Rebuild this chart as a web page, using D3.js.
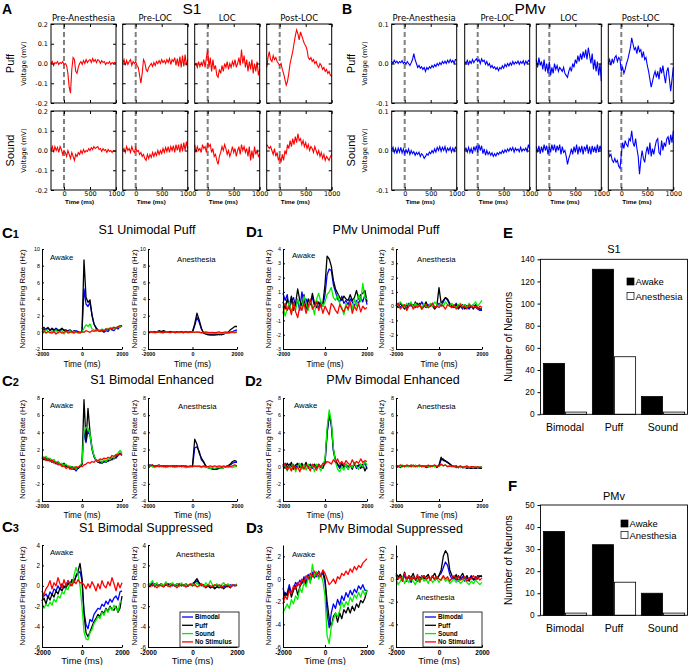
<!DOCTYPE html>
<html><head><meta charset="utf-8">
<script src="https://cdn.jsdelivr.net/npm/d3@7"></script>
<style>body{margin:0;background:#fff} svg{display:block}</style>
</head><body><svg id="c" width="688" height="665"></svg>
<script>
// ---------------- DATA ----------------
// Panels A/B: LFP traces, time -250..1000 ms every 25 ms
const lfpEpochs = ["Pre-Anesthesia", "Pre-LOC", "LOC", "Post-LOC"];
const lfpStimuli = ["Puff", "Sound"];
const lfpTimeStart = -250, lfpTimeStep = 25;
const lfpXTicks = [0, 500, 1000];
const s1YTicks = [-0.2, -0.1, 0.0, 0.1, 0.2];
const pmvYTicks = [-0.1, 0.0, 0.1];

const s1Puff_PreAnesthesia = [0.0,0.01,-0.01,0.005,0.0,0.01,-0.005,0.005,0.0,0.01,-0.005,0.0,-0.01,-0.05,-0.12,-0.15,-0.03,0.03,0.02,-0.04,-0.05,-0.02,0.0,0.01,-0.005,0.015,0.0,0.02,0.005,0.015,0.02,0.005,0.025,0.01,0.02,0.005,0.02,0.015,0.0,0.015,0.005,0.01,-0.005,0.005,0.0,0.01,-0.005,0.005,0.0,0.005,0.0];
const s1Puff_PreLOC = [0.0,0.02,-0.01,0.015,-0.005,0.01,0.02,-0.01,0.01,0.0,0.01,-0.01,-0.02,-0.06,-0.1,-0.05,0.02,0.005,-0.03,-0.04,-0.02,-0.01,0.0,-0.015,0.005,-0.01,0.01,0.0,0.015,0.0,0.02,0.005,0.015,0.0,0.02,0.005,0.025,-0.005,0.02,0.01,0.03,-0.01,0.025,-0.015,0.035,-0.02,0.04,-0.015,0.045,-0.01,0.02];
const s1Puff_LOC = [-0.01,0.0,-0.02,0.01,-0.015,0.005,-0.01,0.02,-0.02,0.03,0.07,-0.02,0.03,-0.04,0.02,-0.03,-0.01,-0.06,-0.07,-0.03,-0.05,-0.01,-0.04,0.0,-0.02,0.01,-0.03,0.0,-0.02,0.01,-0.01,0.02,-0.02,0.0,0.03,-0.01,0.07,0.0,0.04,-0.02,0.02,-0.04,0.01,-0.03,0.02,-0.05,0.0,-0.04,0.01,-0.06,-0.03];
const s1Puff_PostLOC = [-0.02,0.03,0.06,0.02,0.01,0.04,0.02,0.03,0.01,0.0,-0.01,0.0,-0.03,-0.05,-0.08,-0.11,-0.09,-0.05,0.0,0.03,0.06,0.1,0.14,0.17,0.15,0.12,0.16,0.14,0.12,0.1,0.09,0.07,0.03,0.02,0.03,0.01,0.02,0.0,0.01,-0.01,-0.02,0.0,-0.01,-0.03,-0.02,-0.04,-0.03,-0.05,-0.04,-0.06,-0.065];
const s1Sound_PreAnesthesia = [0.0,0.02,-0.01,0.02,0.0,0.015,-0.01,0.02,0.005,-0.02,0.0,-0.01,-0.03,0.0,-0.02,-0.04,-0.01,-0.03,-0.05,-0.02,-0.03,-0.01,-0.02,0.0,-0.015,0.005,-0.01,0.0,-0.005,0.01,0.0,0.015,0.005,0.02,0.01,0.015,0.02,0.005,0.01,-0.005,0.01,0.0,0.005,-0.01,0.005,-0.005,0.0,-0.01,0.0,-0.005,0.0];
const s1Sound_PreLOC = [0.0,0.01,-0.01,0.02,0.0,0.01,-0.01,0.02,0.0,-0.01,0.015,-0.005,0.0,-0.02,-0.01,-0.03,-0.02,-0.04,-0.05,-0.02,-0.04,-0.02,-0.035,-0.01,-0.03,-0.01,-0.025,0.0,-0.02,0.0,-0.015,0.01,-0.01,0.015,-0.005,0.02,-0.01,0.02,0.0,0.025,-0.01,0.03,0.0,0.03,-0.01,0.035,-0.005,0.04,0.0,0.045,0.01];
const s1Sound_LOC = [0.03,-0.01,0.02,0.0,0.01,-0.01,0.03,0.01,0.02,-0.01,0.04,0.02,0.03,-0.01,0.01,-0.03,-0.02,-0.05,-0.07,-0.03,-0.01,0.02,0.0,0.03,0.01,-0.02,0.0,-0.03,-0.01,0.02,-0.01,0.01,-0.03,0.0,0.02,-0.02,0.03,0.0,0.02,-0.01,0.01,-0.03,0.02,-0.05,0.0,-0.04,0.02,-0.02,0.0,-0.03,-0.02];
const s1Sound_PostLOC = [0.03,0.02,0.01,0.02,0.0,-0.02,0.01,-0.03,-0.01,-0.05,-0.03,-0.06,-0.02,-0.05,0.0,-0.02,0.03,0.01,0.05,0.02,0.06,0.03,0.07,0.04,0.085,0.05,0.06,0.03,0.05,0.02,0.04,0.01,0.03,0.0,0.02,0.01,-0.01,0.02,0.0,-0.02,0.0,-0.03,-0.01,-0.04,-0.02,-0.05,-0.03,-0.04,-0.05,-0.03,-0.02];

const pmvPuff_PreAnesthesia = [0.005,0.0,0.008,0.002,0.006,0.0,0.005,0.002,0.007,0.0,0.004,-0.002,0.005,0.0,-0.005,0.002,0.01,0.025,0.01,0.0,-0.01,-0.005,-0.012,-0.008,-0.015,-0.01,-0.02,-0.01,-0.015,-0.008,-0.012,-0.005,-0.01,-0.003,-0.008,0.0,-0.005,0.002,-0.003,0.005,0.0,0.006,0.0,0.008,0.002,0.01,0.003,0.008,0.0,0.01,0.008];
const pmvPuff_PreLOC = [0.005,0.0,0.008,-0.002,0.006,0.0,0.01,0.002,0.008,0.012,0.005,0.01,0.0,0.012,0.005,0.008,-0.002,0.005,-0.005,0.0,-0.01,-0.005,-0.012,-0.008,-0.015,-0.01,-0.018,-0.01,-0.014,-0.006,-0.012,-0.002,-0.008,0.0,-0.006,0.002,-0.004,0.005,-0.002,0.004,0.0,0.006,-0.002,0.005,0.0,0.007,-0.003,0.006,0.0,0.008,0.005];
const pmvPuff_LOC = [0.01,-0.01,0.015,-0.005,0.005,-0.015,0.01,-0.02,0.0,-0.025,0.005,-0.03,-0.01,-0.025,0.0,-0.015,-0.005,-0.02,-0.01,-0.015,-0.02,-0.01,-0.025,-0.03,-0.035,-0.02,-0.01,-0.02,0.0,-0.01,0.01,0.0,0.02,0.005,0.025,0.01,0.03,0.015,0.035,0.01,0.04,0.02,0.0,0.025,-0.015,0.01,-0.02,0.005,-0.03,0.0,-0.045];
const pmvPuff_PostLOC = [0.0,0.01,-0.005,0.012,0.0,0.015,0.02,0.005,0.015,0.01,-0.02,-0.01,-0.025,-0.015,0.0,0.01,0.025,0.04,0.065,0.05,0.035,0.04,0.025,0.045,0.03,0.035,0.015,0.03,0.01,0.015,-0.005,-0.02,-0.04,-0.06,-0.045,-0.03,-0.02,-0.035,-0.02,-0.04,-0.01,-0.025,-0.005,-0.03,-0.05,-0.02,-0.01,-0.04,-0.07,-0.04,-0.01];
const pmvSound_PreAnesthesia = [0.0,0.008,-0.005,0.005,-0.008,0.006,-0.004,0.008,-0.006,0.004,-0.008,0.002,-0.006,0.004,-0.01,0.0,-0.008,-0.003,-0.012,-0.005,-0.01,-0.004,-0.015,-0.008,-0.012,-0.02,-0.015,-0.008,-0.012,-0.004,-0.008,0.0,-0.006,0.004,-0.004,0.008,0.0,0.01,-0.002,0.008,0.0,0.01,-0.004,0.006,0.0,0.008,-0.004,0.006,-0.002,0.008,0.002];
const pmvSound_PreLOC = [0.0,0.006,-0.004,0.008,-0.005,0.005,-0.008,0.01,0.0,0.012,-0.005,0.015,0.0,0.012,-0.008,0.004,-0.012,0.0,-0.01,-0.004,-0.012,-0.006,-0.015,-0.008,-0.014,-0.006,-0.01,-0.004,-0.008,0.0,-0.006,0.002,-0.004,0.004,-0.002,0.006,0.0,0.008,-0.004,0.006,0.0,0.004,-0.003,0.008,-0.002,0.004,0.0,0.006,-0.002,0.015,0.004];
const pmvSound_LOC = [0.01,-0.005,0.012,-0.008,0.01,-0.005,0.015,0.0,0.012,-0.01,0.01,-0.005,0.015,0.0,0.015,-0.005,0.012,0.0,0.015,-0.01,0.01,-0.005,0.0,-0.015,-0.035,-0.02,-0.01,0.005,-0.01,0.01,-0.005,0.015,-0.01,0.01,-0.005,0.012,-0.01,0.01,0.0,0.015,-0.008,0.01,-0.01,0.012,-0.004,0.01,-0.006,0.015,-0.004,0.012,0.0];
const pmvSound_PostLOC = [0.0,-0.015,-0.01,-0.025,-0.03,-0.02,-0.03,-0.025,-0.04,-0.045,-0.01,0.02,0.005,0.025,0.015,0.01,0.03,0.025,0.05,0.02,0.01,0.03,0.005,-0.015,-0.06,-0.025,0.0,-0.02,-0.03,-0.005,0.01,-0.01,0.02,-0.015,0.005,-0.01,0.01,0.025,0.03,-0.005,-0.01,0.025,0.0,0.02,0.01,0.03,0.035,0.015,0.04,0.02,0.05];

// Panels C/D: normalized firing rate, time -2000..2000 ms every 100 ms
const rateSeries = ["Bimodal", "Puff", "Sound", "No Stimulus"];
const rateTimeStart = -2000, rateTimeStep = 100;
const rateXTicks = [-2000, 0, 2000];

const c1AwakeBimodal = [0.5,0.3,0.4,0.6,0.3,0.4,0.2,0.5,0.3,0.2,0.4,0.3,0.1,0.2,0.3,0.1,0.0,0.2,0.1,0.0,0.1,5.2,3.4,3.1,3.6,2.1,1.0,0.6,0.2,0.1,0.2,0.0,0.2,0.1,0.4,0.3,0.2,0.5,0.4,0.7,0.8];
const c1AwakePuff = [0.4,0.6,0.3,0.5,0.2,0.5,0.3,0.4,0.2,0.3,0.5,0.2,0.3,0.1,0.2,0.0,0.2,0.1,0.0,0.1,0.0,8.7,4.2,3.6,3.9,2.0,1.0,0.5,0.3,0.2,0.3,0.1,0.4,0.3,0.5,0.4,0.6,0.5,0.7,0.6,0.8];
const c1AwakeSound = [0.2,0.0,0.3,0.1,-0.1,0.2,0.0,0.3,-0.1,0.1,0.2,-0.2,0.1,0.0,0.2,-0.1,0.1,0.0,-0.1,0.1,0.0,0.5,0.9,0.7,1.0,0.4,0.3,0.1,0.3,0.2,0.4,0.2,0.3,0.5,0.3,0.6,0.4,0.5,0.7,0.6,0.9];
const c1AwakeNoStim = [0.0,0.2,-0.1,0.1,0.0,-0.1,0.1,-0.2,0.0,0.1,-0.1,0.0,0.2,-0.1,0.0,0.1,-0.1,0.1,0.0,-0.1,0.1,0.0,0.2,0.1,0.0,0.2,0.1,0.3,0.2,0.1,0.3,0.2,0.4,0.3,0.5,0.4,0.6,0.5,0.7,0.8,0.8];
const c1AnesBimodal = [0.0,0.1,0.0,0.0,0.1,0.1,0.0,0.1,0.0,0.0,0.1,0.0,0.0,0.1,0.0,0.0,0.1,0.0,0.0,0.1,0.0,0.8,1.8,1.2,0.4,-0.1,-0.2,-0.2,-0.3,-0.3,-0.3,-0.2,-0.3,-0.2,-0.2,-0.1,-0.1,0.0,0.1,0.2,0.3];
const c1AnesPuff = [0.0,0.1,0.0,0.1,0.0,0.2,0.1,0.2,0.1,0.0,0.1,0.0,0.1,0.0,0.0,0.1,0.0,0.1,0.0,0.0,0.1,1.0,2.3,1.5,0.5,-0.1,-0.2,-0.3,-0.3,-0.3,-0.3,-0.3,-0.2,-0.3,-0.2,-0.1,0.0,0.3,0.5,0.7,0.7];
const c1AnesSound = [0.0,0.05,-0.05,0.0,0.05,0.0,-0.05,0.0,0.05,0.0,-0.05,0.0,0.05,0.0,-0.05,0.0,0.05,0.0,-0.05,0.0,0.05,0.0,0.0,0.05,-0.05,0.0,-0.05,-0.1,-0.1,-0.1,-0.15,-0.1,-0.1,-0.15,-0.1,-0.05,-0.1,-0.05,0.0,-0.05,0.0];
const c1AnesNoStim = [0.05,0.0,0.05,-0.05,0.0,0.05,0.0,-0.05,0.05,0.0,0.0,0.05,-0.05,0.0,0.05,0.0,-0.05,0.05,0.0,0.0,0.05,0.0,0.05,0.0,-0.05,0.0,0.05,0.0,-0.05,0.0,-0.05,0.0,0.05,-0.05,0.0,0.05,0.0,0.0,0.05,0.0,0.05];

const c2AwakeBimodal = [1.1,0.9,0.8,1.0,0.7,0.6,0.8,0.3,0.5,0.2,0.3,0.1,0.2,-0.1,0.0,-0.3,-0.2,-0.5,-0.2,0.0,0.3,4.0,2.8,4.2,3.6,2.0,1.2,0.7,0.6,0.4,0.6,0.5,0.7,0.6,0.9,0.8,1.1,1.0,1.3,1.5,1.3];
const c2AwakePuff = [1.0,0.8,1.1,0.7,0.9,0.5,0.7,0.4,0.6,0.3,0.2,0.4,0.0,0.1,-0.2,0.0,-0.3,-0.1,-0.2,0.0,0.3,7.8,3.0,6.8,4.0,2.2,1.2,0.8,0.5,0.6,0.4,0.7,0.5,0.8,0.7,1.0,0.9,1.2,1.4,1.6,1.4];
const c2AwakeSound = [1.3,1.0,1.2,0.8,1.0,0.6,0.8,0.5,0.6,0.3,0.4,0.1,0.3,0.0,0.1,-0.2,0.0,-0.2,-0.1,0.1,0.5,4.0,4.6,4.5,3.8,2.2,1.3,0.8,0.6,0.7,0.5,0.8,0.6,0.9,0.8,1.1,1.0,1.4,1.6,1.9,1.6];
const c2AwakeNoStim = [0.9,1.1,0.7,0.9,0.6,0.8,0.4,0.5,0.2,0.3,0.0,0.1,-0.2,0.0,-0.3,-0.1,-0.2,0.0,-0.1,0.1,0.0,0.2,0.3,0.5,0.4,0.6,0.5,0.8,0.7,0.9,0.8,1.0,0.9,1.1,1.0,1.3,1.2,1.4,1.3,1.5,1.4];
const c2AnesBimodal = [0.1,0.2,0.0,0.1,0.1,0.0,0.1,0.0,0.1,0.0,0.1,0.0,0.1,0.0,0.1,0.0,0.1,-0.1,0.0,0.0,0.0,2.2,2.3,1.8,0.8,0.5,0.1,-0.1,-0.2,-0.2,-0.3,-0.2,-0.2,-0.1,-0.1,0.0,0.1,0.2,0.4,0.5,0.5];
const c2AnesPuff = [0.2,0.1,0.2,0.0,0.1,0.2,0.0,0.1,0.0,0.1,0.0,0.1,0.0,0.1,0.0,0.1,0.0,0.1,0.0,0.0,0.1,3.2,2.6,1.6,1.0,0.6,0.0,-0.1,-0.2,-0.3,-0.3,-0.3,-0.2,-0.2,-0.1,0.0,0.1,0.3,0.6,0.7,0.6];
const c2AnesSound = [0.0,0.1,0.0,-0.1,0.0,0.1,0.0,0.0,-0.1,0.0,0.1,0.0,-0.1,0.0,0.1,0.0,0.0,-0.1,0.0,0.1,0.0,0.0,0.1,0.0,-0.1,0.0,-0.1,-0.1,-0.2,-0.1,-0.2,-0.1,-0.1,-0.2,-0.1,0.0,-0.1,0.0,-0.1,0.0,0.0];
const c2AnesNoStim = [0.3,0.1,0.2,0.0,0.1,0.0,0.1,0.0,0.1,0.0,0.1,0.0,0.1,0.0,0.1,0.0,0.1,0.0,0.0,0.1,0.0,0.1,0.0,0.1,0.0,0.1,0.0,0.0,0.1,0.0,0.1,0.0,0.1,0.0,0.1,0.0,0.1,0.0,0.1,0.2,0.1];

const c3AwakeBimodal = [-0.5,-1.0,-0.8,-1.2,-0.6,-0.9,-0.3,-0.5,0.0,-0.4,0.2,-0.2,0.0,0.5,0.2,0.6,0.4,0.9,1.2,1.4,0.5,-2.5,-3.8,-4.2,-3.3,-3.5,-2.8,-2.5,-2.2,-2.3,-1.8,-2.0,-1.5,-1.8,-1.3,-1.6,-1.2,-1.0,-1.4,-0.6,-0.5];
const c3AwakePuff = [-1.5,-1.2,-1.8,-1.0,-1.4,-0.8,-1.1,-0.5,-0.8,-0.2,-0.5,0.0,-0.3,0.3,0.0,0.6,0.3,1.0,1.4,2.2,0.8,-2.8,-4.6,-5.0,-4.5,-4.0,-3.5,-3.2,-2.8,-3.0,-2.5,-2.7,-2.2,-2.5,-2.0,-2.3,-2.4,-2.0,-2.6,-2.2,-1.0];
const c3AwakeSound = [-1.6,-2.2,-1.8,-2.0,-1.6,-1.9,-1.3,-1.6,-1.0,-1.2,-0.6,-0.8,-0.2,-0.4,0.3,0.0,1.0,1.8,1.2,0.0,-2.0,-4.5,-5.2,-5.3,-4.6,-4.3,-3.7,-3.4,-3.0,-3.2,-2.6,-2.9,-2.3,-2.6,-2.1,-2.4,-1.9,-2.2,-2.5,-1.6,-1.5];
const c3AwakeNoStim = [-1.5,-0.8,-0.3,0.0,0.5,-0.3,0.3,0.0,0.8,0.2,-0.2,0.6,0.0,0.5,0.2,0.0,0.5,0.2,0.6,0.3,0.3,0.1,-0.3,0.2,-0.2,0.4,0.0,-0.5,0.2,-0.3,0.5,0.0,-0.2,0.4,0.0,0.8,0.2,-0.5,0.3,-0.2,0.3];
const c3AnesBimodal = [0.2,0.0,0.3,-0.1,0.2,0.0,0.2,-0.1,0.1,0.0,0.2,0.0,0.1,0.0,0.2,0.0,0.1,-0.1,0.0,0.1,0.0,0.3,0.5,0.2,0.0,0.1,-0.1,0.0,-0.2,0.0,-0.2,-0.1,0.0,-0.2,-0.1,0.0,-0.1,0.1,0.0,0.1,0.0];
const c3AnesPuff = [0.1,0.2,0.0,0.2,0.1,0.0,0.2,0.0,0.1,0.2,0.0,0.1,0.0,0.2,0.0,0.1,0.0,0.2,0.0,0.1,0.2,0.4,0.7,0.3,0.1,0.0,-0.2,0.0,-0.2,-0.1,-0.3,-0.1,-0.2,0.0,-0.3,-0.1,0.0,-0.2,0.1,0.0,0.1];
const c3AnesSound = [0.0,0.2,0.5,0.0,0.3,-0.1,0.2,0.0,0.4,-0.1,0.1,0.3,0.0,0.2,-0.1,0.3,0.0,0.2,0.1,0.0,0.2,0.0,0.3,0.0,0.2,-0.1,0.3,0.0,0.5,0.1,0.0,0.2,-0.1,0.1,0.3,0.0,0.2,-0.1,0.1,0.0,0.2];
const c3AnesNoStim = [0.0,-0.1,0.1,0.0,-0.2,0.1,0.0,-0.1,0.2,0.0,-0.1,0.1,0.0,-0.2,0.1,0.0,0.1,-0.1,0.0,0.2,0.0,0.1,-0.1,0.0,0.2,0.0,-0.1,0.1,0.0,-0.1,0.1,0.0,0.1,-0.1,0.0,0.1,0.0,-0.1,0.1,0.0,0.1];

const d1AwakeBimodal = [0.9,0.4,0.8,-0.2,0.3,0.6,0.0,0.4,-0.3,1.0,0.2,0.5,-0.1,0.3,0.6,0.0,0.4,-0.2,0.3,0.0,0.8,2.2,2.6,2.5,1.5,1.0,0.5,0.3,0.7,0.2,0.4,0.1,0.5,0.3,0.0,0.4,0.2,0.6,0.3,0.8,0.1];
const d1AwakePuff = [0.3,-0.2,0.5,0.0,0.7,-0.3,0.2,1.2,0.4,0.0,0.8,-0.2,0.5,0.1,0.9,0.2,-0.1,0.3,0.0,0.2,1.5,3.5,3.3,2.8,1.8,1.2,0.9,0.6,0.4,0.7,0.5,0.4,0.8,0.4,0.6,1.1,0.5,0.8,0.9,1.1,0.3];
const d1AwakeSound = [0.0,-0.7,-0.2,0.3,-0.5,0.2,-0.3,0.5,0.0,-0.2,0.7,0.2,-0.3,0.4,0.0,-0.6,0.5,0.9,0.3,0.0,0.3,0.8,1.0,1.3,0.6,0.4,0.8,0.2,-0.1,-0.6,0.2,-0.3,0.3,-0.2,0.5,0.0,0.8,0.3,1.6,0.6,0.5];
const d1AwakeNoStim = [-0.5,0.2,-0.3,0.0,-0.6,0.3,-0.4,-0.8,0.0,-0.3,0.2,-0.5,0.0,0.5,-0.2,0.0,0.3,-0.3,0.1,-0.5,0.0,-0.3,-0.6,0.2,0.0,-0.3,-0.5,0.1,-0.2,-0.4,0.0,-0.2,0.3,-0.5,0.0,-0.3,0.2,-0.4,0.0,-0.2,-0.1];
const d1AnesBimodal = [0.0,0.2,-0.1,0.1,0.0,-0.2,0.2,0.0,0.1,-0.1,0.2,0.0,0.3,0.0,-0.1,0.1,0.0,0.2,-0.1,0.0,0.2,0.0,0.3,0.6,0.4,0.1,-0.1,0.0,0.2,-0.1,0.0,-0.2,0.1,0.0,-0.2,0.0,0.1,-0.1,-0.2,-0.3,-0.3];
const d1AnesPuff = [0.1,-0.1,0.2,0.0,-0.2,0.1,0.0,0.2,-0.1,0.3,0.0,0.2,-0.2,0.0,0.3,-0.1,0.1,0.0,-0.2,0.0,1.3,0.2,0.4,0.6,0.5,0.2,0.0,-0.1,0.1,-0.2,0.0,0.1,-0.2,0.0,-0.1,0.0,-0.2,0.1,-0.1,-0.2,-0.2];
const d1AnesSound = [0.2,0.0,0.3,0.1,-0.1,0.2,0.0,0.3,-0.1,0.2,0.0,0.1,-0.2,0.2,0.0,-0.1,0.2,0.0,0.3,0.1,0.0,0.2,0.0,0.3,0.1,0.0,0.2,0.0,-0.1,0.1,0.2,0.0,0.1,-0.1,0.2,0.0,0.1,0.3,0.0,0.2,0.4];
const d1AnesNoStim = [0.0,0.2,-0.2,0.0,0.1,-0.3,0.0,0.1,-0.2,0.0,-0.1,0.1,-0.2,0.0,0.1,-0.1,0.0,0.2,-0.1,0.0,-0.1,0.1,0.0,-0.2,0.1,0.0,-0.1,0.1,-0.2,0.0,0.1,-0.1,0.0,-0.2,0.1,0.0,-0.1,0.0,-0.2,0.0,-0.1];

const d2AwakeBimodal = [0.0,0.4,-0.1,0.3,0.0,0.2,-0.2,0.3,0.0,0.4,-0.1,0.2,0.0,0.3,-0.2,0.2,0.0,0.3,-0.1,0.0,0.4,3.8,6.0,4.8,1.8,0.6,0.2,-0.2,0.3,0.0,0.1,-0.3,0.2,0.0,0.3,-0.2,0.1,0.3,-0.1,0.5,-0.3];
const d2AwakePuff = [0.3,-0.2,0.4,0.0,0.5,-0.3,0.2,0.4,-0.1,0.3,0.0,0.5,-0.2,0.2,0.0,0.3,-0.1,0.2,0.0,-0.2,0.5,4.0,6.2,5.0,2.0,0.8,0.3,0.0,0.4,-0.1,0.3,0.0,0.2,-0.3,0.4,0.0,0.2,-0.2,0.3,-0.5,0.0];
const d2AwakeSound = [-0.2,0.2,-0.5,0.1,-0.3,0.3,-0.6,0.0,0.4,-0.3,0.2,-0.4,0.3,-0.1,0.2,-0.6,0.3,0.0,-0.5,0.3,0.8,4.5,6.6,5.3,2.2,0.5,-0.3,-0.6,0.0,-0.4,0.3,-0.3,0.2,-0.1,0.5,0.0,-0.3,0.3,0.0,0.6,0.2];
const d2AwakeNoStim = [0.0,0.3,-0.4,0.0,-0.5,0.2,-0.3,0.0,-0.6,0.1,-0.3,0.2,0.0,-0.5,0.3,0.0,-0.4,0.2,0.0,0.4,0.3,0.6,0.5,0.3,0.8,0.5,0.9,0.3,0.6,0.2,0.7,0.4,0.2,0.8,0.3,0.6,0.4,0.9,0.5,0.7,0.6];
const d2AnesBimodal = [0.1,0.0,0.1,0.0,0.1,0.0,0.1,0.0,0.1,0.0,0.1,0.0,0.1,0.0,0.1,0.0,0.0,0.1,0.0,0.1,0.1,0.8,0.9,0.6,0.5,0.3,0.1,0.0,0.0,-0.1,0.0,-0.1,-0.1,-0.1,-0.1,-0.2,-0.1,-0.2,-0.1,-0.1,-0.2];
const d2AnesPuff = [0.0,0.1,-0.1,0.1,0.0,0.1,0.0,0.2,0.0,0.1,0.0,0.1,0.0,0.1,-0.1,0.0,0.1,0.0,0.1,-0.1,0.2,1.1,0.7,0.7,0.5,0.3,0.1,0.0,0.1,-0.1,0.0,-0.1,0.0,-0.2,-0.1,-0.2,-0.1,-0.2,-0.1,-0.2,-0.2];
const d2AnesSound = [0.0,0.1,0.0,0.2,0.0,0.1,0.0,0.1,0.0,0.2,0.0,0.1,0.0,0.1,0.0,0.1,0.0,0.1,0.0,0.1,0.0,0.2,0.1,0.2,0.0,0.1,0.0,0.1,-0.1,0.0,-0.1,0.0,-0.1,0.0,-0.1,0.0,-0.1,0.0,-0.1,0.0,-0.1];
const d2AnesNoStim = [0.2,0.0,0.2,0.1,0.0,0.2,0.1,0.0,0.2,0.0,0.1,0.2,0.0,0.1,0.0,0.2,0.0,0.1,0.2,0.0,0.1,0.3,0.1,0.2,0.0,0.1,0.0,0.1,-0.1,0.0,0.1,-0.1,0.0,0.1,-0.1,0.0,0.0,-0.1,0.0,-0.1,0.0];

const d3AwakeBimodal = [-0.8,-1.5,-1.2,-0.5,-1.3,-0.8,-0.3,-0.6,-0.1,-0.4,0.2,-0.3,0.4,0.0,0.6,0.3,0.2,0.7,0.3,0.5,-0.3,-3.0,-4.3,-3.0,-2.2,-2.6,-1.8,-2.3,-1.5,-1.9,-1.2,-1.6,-1.0,-1.4,-0.9,-1.2,-0.6,-0.9,-0.5,-1.0,-1.0];
const d3AwakePuff = [-1.8,-1.2,-1.5,-0.8,-1.6,-1.0,-0.6,-1.4,-0.7,-0.3,0.0,-0.5,0.3,-0.2,0.4,0.1,0.6,0.2,0.3,0.7,0.0,-2.0,-3.5,-4.2,-3.3,-3.0,-3.8,-3.0,-3.5,-2.7,-3.0,-2.5,-3.0,-2.4,-2.8,-2.2,-2.5,-1.9,-2.1,-1.7,-1.0];
const d3AwakeSound = [-3.0,-2.6,-2.2,-2.6,-1.8,-2.2,-1.5,-1.8,-0.8,-1.2,-0.3,-0.7,0.2,-0.4,1.3,0.2,0.6,0.0,0.4,-0.2,-1.5,-5.0,-5.7,-4.2,-3.6,-3.0,-3.3,-2.8,-2.0,-2.5,-2.0,-2.3,-1.6,-2.0,-1.4,-1.7,-1.2,-1.6,-1.0,-1.4,-1.0];
const d3AwakeNoStim = [-2.2,-1.5,-1.8,-1.0,-1.3,-0.6,-0.9,-0.3,-0.6,0.0,-0.3,0.3,0.0,0.5,0.2,0.7,0.3,0.6,0.2,0.8,0.5,0.0,-0.5,-0.3,0.0,-0.4,0.2,0.0,0.5,0.3,0.7,0.4,0.9,0.6,1.1,0.8,1.2,1.0,1.4,1.6,1.8];
const d3AnesBimodal = [0.3,0.0,0.4,-0.2,0.3,0.0,0.2,-0.3,0.1,0.0,-0.2,0.2,0.0,0.3,-0.1,0.2,0.0,0.3,-0.1,0.0,0.3,0.5,1.0,1.5,1.2,0.4,0.0,0.2,-0.1,0.3,0.0,0.2,-0.2,0.1,0.0,0.3,-0.1,0.2,0.0,0.3,0.2];
const d3AnesPuff = [0.5,0.2,0.4,0.0,0.6,-0.2,0.3,0.1,0.5,-0.1,0.2,-0.3,0.3,0.0,0.2,0.4,-0.1,0.2,0.5,0.0,0.3,0.8,2.0,2.5,2.2,0.8,0.3,0.0,0.4,-0.2,0.2,0.5,0.0,0.3,-0.2,0.2,0.0,-0.1,0.3,0.2,0.3];
const d3AnesSound = [0.0,-0.5,-0.2,0.2,-0.4,0.0,-0.3,0.1,-0.2,-0.5,0.0,-0.3,0.2,-0.2,0.0,-0.4,0.1,-0.3,-0.1,0.0,-0.3,0.0,0.2,-0.2,0.0,-0.4,-0.2,0.0,-0.3,-0.1,-0.4,-0.2,0.0,-0.3,-0.5,-0.2,-0.4,-0.1,-0.3,-0.5,-0.3];
const d3AnesNoStim = [0.4,0.0,0.2,-0.2,0.5,0.0,0.3,-0.1,0.2,0.0,0.4,-0.2,0.1,0.3,0.0,0.2,-0.1,0.3,0.0,0.2,0.0,-0.1,0.3,0.0,0.2,-0.2,0.1,0.3,0.0,0.2,-0.1,0.0,0.2,-0.2,0.1,0.0,0.3,0.0,0.2,-0.1,0.1];

// Panels E/F: neuron counts
const neuronCategories = ["Bimodal", "Puff", "Sound"];
const neuronStates = ["Awake", "Anesthesia"];
const s1AwakeCounts = [46, 131, 16];
const s1AnesthesiaCounts = [2, 52, 2];
const pmvAwakeCounts = [38, 32, 10];
const pmvAnesthesiaCounts = [1, 15, 1];
const s1CountTicks = [0, 20, 40, 60, 80, 100, 120, 140];
const pmvCountTicks = [0, 10, 20, 30, 40, 50];

// ---------------- DRAWING ----------------
const svg = d3.select("#c");
const MPL = "DejaVu Sans", ML = "Liberation Sans, Arial, sans-serif";

function txt(x, y, s, size, o = {}) {
  const t = svg.append("text").attr("x", x).attr("y", y).text(s)
    .attr("font-size", size).attr("font-family", o.family || ML)
    .attr("text-anchor", o.anchor || "start").attr("fill", o.fill || "#000");
  if (o.weight) t.attr("font-weight", o.weight);
  if (o.rotate) t.attr("transform", `rotate(-90,${x},${y})`);
  return t;
}
function styleAxis(g, size, family, weight) {
  g.select(".domain").remove();
  g.selectAll("text").attr("font-size", size).attr("font-family", family).attr("font-weight", weight || "normal");
  g.selectAll("line").attr("stroke", "#000");
}

// ---- A / B ----
function drawLfp(xs, rows, yDomain, yTicks, color) {
  const w = 65, h = 79, rowsY = [24, 111];
  rows.forEach((row, ri) => {
    const y = d3.scaleLinear().domain(yDomain).range([rowsY[ri] + h, rowsY[ri]]);
    row.forEach((vals, ci) => {
      const x = d3.scaleLinear().domain([-250, 1000]).range([xs[ci], xs[ci] + w]);
      const g = svg.append("g");
      g.append("line").attr("x1", x(0)).attr("x2", x(0)).attr("y1", y(yDomain[1])).attr("y2", y(yDomain[0]))
        .attr("stroke", "#808080").attr("stroke-width", 2).attr("stroke-dasharray", "5,3");
      const line = d3.line().x((d, i) => x(lfpTimeStart + i * lfpTimeStep)).y(d => y(d));
      g.append("path").datum(vals).attr("d", line).attr("fill", "none").attr("stroke", color).attr("stroke-width", 1.1);
      const bx = g.append("g").attr("transform", `translate(0,${rowsY[ri] + h})`)
        .call(d3.axisBottom(x).tickValues(lfpXTicks).tickSizeInner(-3).tickSizeOuter(0).tickPadding(1.5)
          .tickFormat(ri === 1 ? d3.format("d") : ""));
      styleAxis(bx, 6.5, MPL);
      const tx = g.append("g").attr("transform", `translate(0,${rowsY[ri]})`)
        .call(d3.axisTop(x).tickValues(lfpXTicks).tickSizeInner(-3).tickSizeOuter(0).tickFormat(""));
      styleAxis(tx, 6.5, MPL);
      const ly = g.append("g").attr("transform", `translate(${xs[ci]},0)`)
        .call(d3.axisLeft(y).tickValues(yTicks).tickSizeInner(-3).tickSizeOuter(0).tickPadding(3)
          .tickFormat(ci === 0 ? d3.format(".1f") : ""));
      styleAxis(ly, 6.5, MPL);
      ly.selectAll("text").text(d => ci === 0 ? d3.format(".1f")(d).replace("−", "-") : "");
      const ry = g.append("g").attr("transform", `translate(${xs[ci] + w},0)`)
        .call(d3.axisRight(y).tickValues(yTicks).tickSizeInner(-3).tickSizeOuter(0).tickFormat(""));
      styleAxis(ry, 6.5, MPL);
      g.append("rect").attr("x", xs[ci]).attr("y", rowsY[ri]).attr("width", w).attr("height", h)
        .attr("fill", "none").attr("stroke", "#000").attr("stroke-width", 1);
      if (ri === 0) txt(xs[ci] + w / 2, 20.5, lfpEpochs[ci], 8.5, { family: MPL, anchor: "middle" });
      if (ri === 1) txt(x(300), 204, "Time (ms)", 6.2, { family: ML, anchor: "middle", weight: "bold" });
    });
    txt(xs[0] - 37, rowsY[ri] + h / 2, lfpStimuli[ri], 11, { anchor: "middle", rotate: true });
    txt(xs[0] - 25, rowsY[ri] + h / 2, "Voltage (mV)", 6.8, { family: MPL, anchor: "middle", rotate: true });
  });
}
txt(2, 14, "A", 14, { weight: "bold" });
txt(192, 13.5, "S1", 15.5, { anchor: "middle" });
drawLfp([51, 122.7, 194.7, 266.7],
  [[s1Puff_PreAnesthesia, s1Puff_PreLOC, s1Puff_LOC, s1Puff_PostLOC],
   [s1Sound_PreAnesthesia, s1Sound_PreLOC, s1Sound_LOC, s1Sound_PostLOC]],
  [-0.2, 0.2], s1YTicks, "#ff0000");
txt(342, 14, "B", 14, { weight: "bold" });
txt(530, 13.5, "PMv", 15.5, { anchor: "middle" });
drawLfp([391.7, 464.7, 536.3, 608.3],
  [[pmvPuff_PreAnesthesia, pmvPuff_PreLOC, pmvPuff_LOC, pmvPuff_PostLOC],
   [pmvSound_PreAnesthesia, pmvSound_PreLOC, pmvSound_LOC, pmvSound_PostLOC]],
  [-0.1, 0.1], pmvYTicks, "#0000ff");

// ---- C / D ----
const rateColors = ["#0000ff", "#000000", "#00ee00", "#ff0000"];
function drawRate(p) {
  const x = d3.scaleLinear().domain([-2000, 2000]).range([p.x0, p.x1]);
  const y = d3.scaleLinear().domain(p.yDomain).range([p.yBot, p.yTop]);
  const g = svg.append("g");
  const line = d3.line().x((d, i) => x(rateTimeStart + i * rateTimeStep)).y(d => y(d));
  p.series.forEach((vals, i) => {
    g.append("path").datum(vals).attr("d", line).attr("fill", "none")
      .attr("stroke", rateColors[i]).attr("stroke-width", 1.3).attr("stroke-linejoin", "round");
  });
  const ax = g.append("g").attr("transform", `translate(0,${p.yBot})`)
    .call(d3.axisBottom(x).tickValues(rateXTicks).tickSizeInner(-2).tickSizeOuter(0).tickPadding(p.xPad)
      .tickFormat(d => d < 0 ? "-" + Math.abs(d) : String(d)));
  ax.selectAll("text").attr("font-size", p.xTickSize).attr("font-family", ML).attr("font-weight", "bold");
  ax.select(".domain").attr("stroke", "#000");
  const ay = g.append("g").attr("transform", `translate(${p.x0},0)`)
    .call(d3.axisLeft(y).tickValues(p.yTicks).tickSizeInner(-2).tickSizeOuter(0).tickPadding(2)
      .tickFormat(d => d < 0 ? "-" + Math.abs(d) : String(d)));
  ay.selectAll("text").attr("font-size", p.yTickSize).attr("font-family", ML);
  ay.select(".domain").attr("stroke", "#000");
  txt(p.yLabelX, (p.yTop + p.yBot) / 2, "Normalized  Firing Rate (Hz)", 8, { anchor: "middle", rotate: true });
  txt((p.x0 + p.x1) / 2, p.timeY, "Time (ms)", p.timeSize, { anchor: "middle" });
  txt(p.labelX, p.labelY, p.label, 7.8);
  if (p.legend) {
    const lg = svg.append("g").attr("transform", `translate(${p.legend[0]},${p.legend[1]})`);
    lg.append("rect").attr("width", 59).attr("height", 35).attr("fill", "#fff").attr("stroke", "#000").attr("stroke-width", 0.8);
    rateSeries.forEach((s, i) => {
      lg.append("line").attr("x1", 2).attr("x2", 13).attr("y1", 5 + i * 8.3).attr("y2", 5 + i * 8.3)
        .attr("stroke", rateColors[i]).attr("stroke-width", 1.3);
      lg.append("text").attr("x", 15).attr("y", 7.3 + i * 8.3).text(s).attr("font-size", 6.3)
        .attr("font-family", ML).attr("font-weight", "bold");
    });
  }
}
function panelLabel(x, y, letter, num) {
  const t = svg.append("text").attr("x", x).attr("y", y).attr("font-family", ML).attr("font-weight", "bold").attr("font-size", 15);
  t.append("tspan").text(letter);
  t.append("tspan").text(num).attr("font-size", 11);
}
const cAw = [42, 122], cAn = [148, 237], dAw = [283, 367], dAn = [396, 482];
const row1 = [249, 349], row2 = [398, 501], row3 = [545, 647];
const common1 = { xTickSize: 5.3, yTickSize: 5.3, timeSize: 8.3, xPad: 3.6 };
const common3 = { xTickSize: 6.5, yTickSize: 6.3, timeSize: 9.3, xPad: 3.6 };

panelLabel(2, 238, "C", "1");
txt(147, 234, "S1 Unimodal Puff", 12.5, { anchor: "middle" });
drawRate({ ...common1, x0: cAw[0], x1: cAw[1], yTop: row1[0], yBot: row1[1], yDomain: [-2, 10], yTicks: [-2, 0, 2, 4, 6, 8, 10],
  series: [c1AwakeBimodal, c1AwakePuff, c1AwakeSound, c1AwakeNoStim], yLabelX: 25, timeY: 366.5, label: "Awake", labelX: 50, labelY: 260 });
drawRate({ ...common1, x0: cAn[0], x1: cAn[1], yTop: row1[0], yBot: row1[1], yDomain: [-2, 10], yTicks: [-2, 0, 2, 4, 6, 8, 10],
  series: [c1AnesBimodal, c1AnesPuff, c1AnesSound, c1AnesNoStim], yLabelX: 137, timeY: 366.5, label: "Anesthesia", labelX: 177, labelY: 262 });

panelLabel(2, 386, "C", "2");
txt(152, 384, "S1 Bimodal Enhanced", 12.5, { anchor: "middle" });
drawRate({ ...common1, x0: cAw[0], x1: cAw[1], yTop: row2[0], yBot: row2[1], yDomain: [-4, 8], yTicks: [-4, -2, 0, 2, 4, 6, 8],
  series: [c2AwakeBimodal, c2AwakePuff, c2AwakeSound, c2AwakeNoStim], yLabelX: 25, timeY: 517.5, label: "Awake", labelX: 50, labelY: 408 });
drawRate({ ...common1, x0: cAn[0], x1: cAn[1], yTop: row2[0], yBot: row2[1], yDomain: [-4, 8], yTicks: [-4, -2, 0, 2, 4, 6, 8],
  series: [c2AnesBimodal, c2AnesPuff, c2AnesSound, c2AnesNoStim], yLabelX: 137, timeY: 517.5, label: "Anesthesia", labelX: 178, labelY: 409 });

panelLabel(2, 532, "C", "3");
txt(146, 532, "S1 Bimodal Suppressed", 12.5, { anchor: "middle" });
drawRate({ ...common3, x0: cAw[0], x1: cAw[1], yTop: row3[0], yBot: row3[1], yDomain: [-6, 4], yTicks: [-6, -4, -2, 0, 2, 4],
  series: [c3AwakeBimodal, c3AwakePuff, c3AwakeSound, c3AwakeNoStim], yLabelX: 25, timeY: 664, label: "Awake", labelX: 50, labelY: 555 });
drawRate({ ...common3, x0: cAn[0], x1: cAn[1], yTop: row3[0], yBot: row3[1], yDomain: [-6, 4], yTicks: [-6, -4, -2, 0, 2, 4],
  series: [c3AnesBimodal, c3AnesPuff, c3AnesSound, c3AnesNoStim], yLabelX: 137, timeY: 664, label: "Anesthesia", labelX: 176, labelY: 557,
  legend: [180, 612] });

panelLabel(246, 237, "D", "1");
txt(386, 234, "PMv Unimodal Puff", 12.5, { anchor: "middle" });
drawRate({ ...common1, x0: dAw[0], x1: dAw[1], yTop: row1[0], yBot: row1[1], yDomain: [-3, 4], yTicks: [-3, -2, -1, 0, 1, 2, 3, 4],
  series: [d1AwakeBimodal, d1AwakePuff, d1AwakeSound, d1AwakeNoStim], yLabelX: 271, timeY: 366.5, label: "Awake", labelX: 292, labelY: 258 });
drawRate({ ...common1, x0: dAn[0], x1: dAn[1], yTop: row1[0], yBot: row1[1], yDomain: [-3, 4], yTicks: [-3, -2, -1, 0, 1, 2, 3, 4],
  series: [d1AnesBimodal, d1AnesPuff, d1AnesSound, d1AnesNoStim], yLabelX: 384, timeY: 366.5, label: "Anesthesia", labelX: 417, labelY: 262 });

panelLabel(245, 386, "D", "2");
txt(393, 384, "PMv Bimodal Enhanced", 12.5, { anchor: "middle" });
drawRate({ ...common1, x0: dAw[0], x1: dAw[1], yTop: row2[0], yBot: row2[1], yDomain: [-4, 8], yTicks: [-4, -2, 0, 2, 4, 6, 8],
  series: [d2AwakeBimodal, d2AwakePuff, d2AwakeSound, d2AwakeNoStim], yLabelX: 271, timeY: 517.5, label: "Awake", labelX: 294, labelY: 408 });
drawRate({ ...common1, x0: dAn[0], x1: dAn[1], yTop: row2[0], yBot: row2[1], yDomain: [-4, 8], yTicks: [-4, -2, 0, 2, 4, 6, 8],
  series: [d2AnesBimodal, d2AnesPuff, d2AnesSound, d2AnesNoStim], yLabelX: 384, timeY: 517.5, label: "Anesthesia", labelX: 417, labelY: 409 });

panelLabel(246, 533, "D", "3");
txt(391, 533, "PMv Bimodal Suppressed", 12.5, { anchor: "middle" });
drawRate({ ...common3, x0: dAw[0], x1: dAw[1], yTop: row3[0], yBot: row3[1], yDomain: [-6, 3], yTicks: [-6, -4, -2, 0, 2],
  series: [d3AwakeBimodal, d3AwakePuff, d3AwakeSound, d3AwakeNoStim], yLabelX: 271, timeY: 664, label: "Awake", labelX: 292, labelY: 557 });
drawRate({ ...common3, x0: dAn[0], x1: dAn[1], yTop: row3[0], yBot: row3[1], yDomain: [-6, 3], yTicks: [-6, -4, -2, 0, 2],
  series: [d3AnesBimodal, d3AnesPuff, d3AnesSound, d3AnesNoStim], yLabelX: 384, timeY: 664, label: "Anesthesia", labelX: 416, labelY: 600,
  legend: [423, 612] });

// ---- E / F ----
function drawBars(p) {
  const x = d3.scaleBand().domain(neuronCategories).range([p.x0, p.x1]).paddingInner(0).paddingOuter(0);
  const xs = d3.scaleBand().domain(neuronStates).range([0, x.bandwidth()]).paddingInner(0.04).paddingOuter(0.13);
  const y = d3.scaleLinear().domain([0, p.yMax]).range([p.yBot, p.yTop]);
  const g = svg.append("g");
  neuronCategories.forEach((c, i) => {
    [p.awake[i], p.anes[i]].forEach((v, j) => {
      g.append("rect").attr("x", x(c) + xs(neuronStates[j])).attr("y", y(v))
        .attr("width", xs.bandwidth()).attr("height", y(0) - y(v))
        .attr("fill", j === 0 ? "#000" : "#fff").attr("stroke", "#000").attr("stroke-width", 0.8);
    });
    txt(x(c) + x.bandwidth() / 2, p.catY, c, 10.5, { anchor: "middle" });
  });
  const ay = g.append("g").attr("transform", `translate(${p.x0},0)`)
    .call(d3.axisLeft(y).tickValues(p.ticks).tickSizeInner(3).tickSizeOuter(0).tickPadding(3));
  ay.select(".domain").remove();
  ay.selectAll("text").attr("font-size", 8.3).attr("font-family", ML);
  g.append("rect").attr("x", p.x0).attr("y", p.yTop).attr("width", p.x1 - p.x0).attr("height", p.yBot - p.yTop)
    .attr("fill", "none").attr("stroke", "#000").attr("stroke-width", 0.9);
  txt(p.yLabelX, (p.yTop + p.yBot) / 2, "Number of Neurons", 10.3, { anchor: "middle", rotate: true });
  txt((p.x0 + p.x1) / 2, p.titleY, p.title, 11, { anchor: "middle" });
  txt(p.letterX, p.letterY, p.letter, 15, { weight: "bold" });
  neuronStates.forEach((s, j) => {
    g.append("rect").attr("x", p.legX).attr("y", p.legY + j * p.legDy - 7).attr("width", 7).attr("height", 7)
      .attr("fill", j === 0 ? "#000" : "#fff").attr("stroke", "#000").attr("stroke-width", 0.7);
    txt(p.legX + 8.5, p.legY + j * p.legDy, s, 9.5);
  });
}
drawBars({ x0: 540.5, x1: 687.5, yTop: 259.3, yBot: 414.3, yMax: 140, ticks: s1CountTicks,
  awake: s1AwakeCounts, anes: s1AnesthesiaCounts, catY: 431, yLabelX: 512, title: "S1", titleY: 253,
  letter: "E", letterX: 503, letterY: 238, legX: 627, legY: 285, legDy: 14.5 });
drawBars({ x0: 540.5, x1: 687.5, yTop: 505, yBot: 615.3, yMax: 50, ticks: pmvCountTicks,
  awake: pmvAwakeCounts, anes: pmvAnesthesiaCounts, catY: 632, yLabelX: 512, title: "PMv", titleY: 500,
  letter: "F", letterX: 508, letterY: 491, legX: 621, legY: 527, legDy: 11.5 });
</script></body></html>
